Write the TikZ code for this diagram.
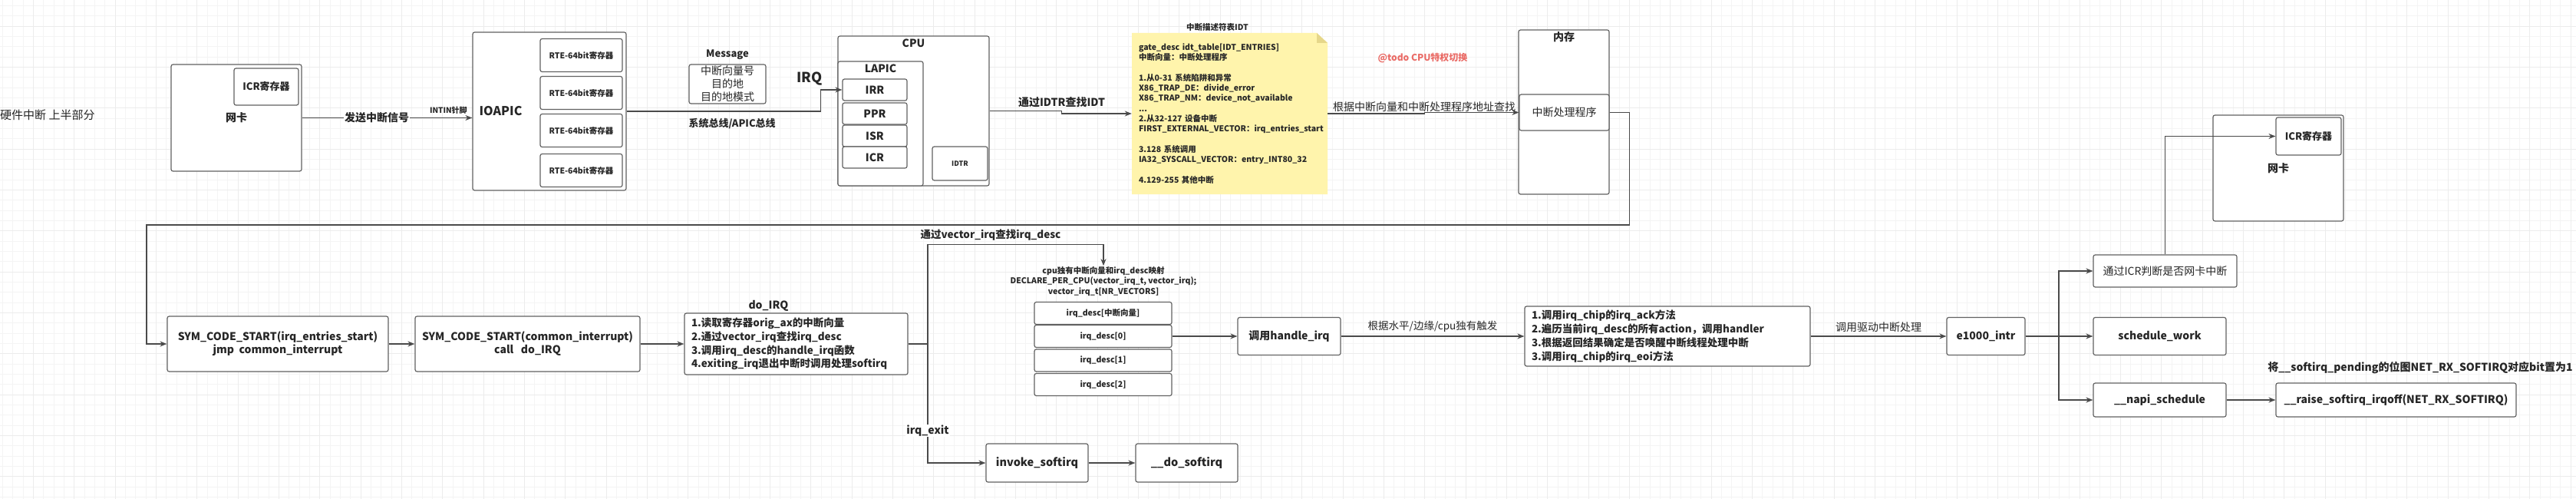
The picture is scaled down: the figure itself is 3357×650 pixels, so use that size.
\documentclass[tikz,border=0pt]{standalone}
\usepackage{fontspec}
\setmainfont{Noto Sans CJK SC}
\usepackage{tikz}
\usetikzlibrary{positioning, arrows.meta}

\definecolor{linegray}{HTML}{4A4A4A}
\definecolor{boxgray}{HTML}{626262}
\definecolor{txt}{HTML}{262626}
\definecolor{notefill}{HTML}{FFF4AC}
\definecolor{notefold}{HTML}{E6D78A}
\definecolor{todored}{HTML}{EA6B66}
\definecolor{gridminor}{HTML}{F4F4F4}
\definecolor{gridmajor}{HTML}{ECECEC}

\tikzset{
  box/.style={draw=boxgray, line width=1.2pt, rounded corners=2.5pt, fill=white, text=txt, align=center, inner sep=2pt, font=\bfseries\fontsize{14}{17}\selectfont},
  smallbox/.style={box, font=\bfseries\fontsize{10.5}{12}\selectfont},
  plainbox/.style={box, font=\fontsize{14}{17}\selectfont},
  listbox/.style={box, align=left, inner xsep=9pt, font=\bfseries\fontsize{13.5}{17.7}\selectfont},
  notebox/.style={inner xsep=9pt, text width=237pt, align=left, text=txt, font=\bfseries\fontsize{10.5}{13.3}\selectfont},
  lbl/.style={text=txt, inner sep=1pt, font=\fontsize{13.5}{16}\selectfont},
  flow/.style={draw=linegray, line width=1.3pt, -{Stealth[length=9pt,width=7pt]}},
  link/.style={draw=linegray, line width=1.3pt},
}

\begin{document}
\begin{tikzpicture}[x=1pt, y=-1pt]
  \useasboundingbox (0,0) rectangle (3357,650);
  \fill[white] (0,0) rectangle (3357,650);
  % background grid
  \begin{scope}
    \clip (0,0) rectangle (3357,650);
    \begin{scope}[shift={(43.3,34)}]
      \draw[gridminor, line width=0.8pt, step=13.333pt] (-60,-60) grid (3400,700);
      \draw[gridmajor, line width=0.8pt, step=53.333pt] (-60,-60) grid (3400,700);
    \end{scope}
  \end{scope}

  \node[lbl, anchor=west, inner sep=0pt, font=\fontsize{15}{18}\selectfont] (title) at (0,150) {硬件中断 上半部分};

  % network card and IOAPIC
  \node[box, minimum width=170pt, minimum height=139pt] (nic) at (308,153.5) {网卡};
  \node[box, minimum width=84pt, minimum height=48pt, font=\bfseries\fontsize{13}{16}\selectfont] (nicicr) at (347,113) {ICR寄存器};

  \node[box, minimum width=200pt, minimum height=206pt] (ioapic) at (716,145) {};
  \node[text=txt, inner sep=0pt, font=\bfseries\fontsize{16}{19}\selectfont, right=9pt of ioapic.west] (ioapiclbl) {IOAPIC};
  \node[smallbox, minimum width=107pt, minimum height=43pt] (rte1) at (757.5,72) {RTE-64bit寄存器};
  \node[smallbox, minimum width=107pt, minimum height=43pt] (rte2) at (757.5,121) {RTE-64bit寄存器};
  \node[smallbox, minimum width=107pt, minimum height=43pt] (rte3) at (757.5,170) {RTE-64bit寄存器};
  \node[smallbox, minimum width=107pt, minimum height=43pt] (rte4) at (757.5,222) {RTE-64bit寄存器};

  \node[plainbox, minimum width=100pt, minimum height=51pt, inner sep=0pt] (msg) at (948,109.5) {中断向量号\\目的地\\目的地模式};
  \node[lbl, font=\bfseries\fontsize{13}{16}\selectfont, above=5pt of msg] (msglbl) {Message};
  \node[lbl, font=\bfseries\fontsize{18}{20}\selectfont] (irqlbl) at (1055,103) {IRQ};

  % CPU
  \node[box, minimum width=197pt, minimum height=195pt] (cpu) at (1190.5,144.5) {};
  \node[lbl, font=\bfseries\fontsize{14}{17}\selectfont, below=3pt of cpu.north] (cpulbl) {CPU};
  \node[box, minimum width=111pt, minimum height=162pt] (lapic) at (1147.5,161) {};
  \node[lbl, font=\bfseries\fontsize{14}{17}\selectfont, below=3pt of lapic.north] (lapiclbl) {LAPIC};
  \node[box, minimum width=84pt, minimum height=28pt] (irr) at (1140,117) {IRR};
  \node[box, minimum width=84pt, minimum height=28pt] (ppr) at (1140,148) {PPR};
  \node[box, minimum width=84pt, minimum height=28pt] (isr) at (1140,177) {ISR};
  \node[box, minimum width=84pt, minimum height=28pt] (icr) at (1140,205) {ICR};
  \node[smallbox, font=\bfseries\fontsize{9}{11}\selectfont, minimum width=72pt, minimum height=44pt] (idtr) at (1251,213) {IDTR};

  % IDT note
  \fill[notefill] (1475,43) -- (1716,43) -- (1730,56) -- (1730,253) -- (1475,253) -- cycle;
  \fill[notefold] (1716,43) -- (1716,56) -- (1730,56) -- cycle;
  \node[notebox, minimum height=210pt] (idt) at (1602.5,148) {gate\_desc idt\_table[IDT\_ENTRIES]\\中断向量：中断处理程序\\[13.3pt]1.从0-31 系统陷阱和异常\\X86\_TRAP\_DE：divide\_error\\X86\_TRAP\_NM：device\_not\_available\\...\\2.从32-127 设备中断\\FIRST\_EXTERNAL\_VECTOR：irq\_entries\_start\\[13.3pt]3.128 系统调用\\IA32\_SYSCALL\_VECTOR：entry\_INT80\_32\\[13.3pt]4.129-255 其他中断};
  \node[lbl, font=\bfseries\fontsize{10.5}{13}\selectfont, above=1pt of idt, xshift=-16pt] (idttitle) {中断描述符表IDT};
  \node[lbl, text=todored, font=\bfseries\fontsize{12}{14}\selectfont] (todo) at (1854,76) {@todo CPU特权切换};

  % memory
  \node[box, minimum width=118pt, minimum height=214pt] (mem) at (2038,146) {};
  \node[lbl, font=\bfseries\fontsize{14}{17}\selectfont, below=2pt of mem.north] (memlbl) {内存};
  \node[plainbox, minimum width=117pt, minimum height=47pt] (handler) at (2038.5,146.5) {中断处理程序};

  % entry code
  \node[box, minimum width=288pt, minimum height=72pt] (entry) at (362,448) {SYM\_CODE\_START(irq\_entries\_start)\\jmp~~common\_interrupt};
  \node[box, minimum width=293pt, minimum height=72pt] (common) at (687.5,448) {SYM\_CODE\_START(common\_interrupt)\\call~~~do\_IRQ};
  \node[listbox, text width=273pt, minimum height=80pt] (doirq) at (1037.5,448) {1.读取寄存器orig\_ax的中断向量\\2.通过vector\_irq查找irq\_desc\\3.调用irq\_desc的handle\_irq函数\\4.exiting\_irq退出中断时调用处理softirq};
  \node[lbl, font=\bfseries\fontsize{14}{17}\selectfont, above=1pt of doirq, xshift=-36pt] (doirqlbl) {do\_IRQ};
  \coordinate (split) at (1209,448);

  % vector_irq and irq_desc table
  \node[lbl, align=center, font=\bfseries\fontsize{10.5}{13.5}\selectfont] (vecmap) at (1438,366.5) {cpu独有中断向量和irq\_desc映射\\DECLARE\_PER\_CPU(vector\_irq\_t, vector\_irq);\\vector\_irq\_t[NR\_VECTORS]};
  \node[lbl, font=\bfseries\fontsize{13.5}{16}\selectfont] (veclbl) at (1291,306) {通过vector\_irq查找irq\_desc};
  \node[smallbox, minimum width=179pt, minimum height=29pt] (descvec) at (1437.5,408) {irq\_desc[中断向量]};
  \node[smallbox, minimum width=179pt, minimum height=29pt] (desc0) at (1437.5,438) {irq\_desc[0]};
  \node[smallbox, minimum width=179pt, minimum height=29pt] (desc1) at (1437.5,469.5) {irq\_desc[1]};
  \node[smallbox, minimum width=179pt, minimum height=29pt] (desc2) at (1437.5,501) {irq\_desc[2]};

  \node[box, minimum width=133pt, minimum height=50pt, font=\bfseries\fontsize{14.5}{17}\selectfont] (invoke) at (1351.5,603) {invoke\_softirq};
  \node[box, minimum width=133pt, minimum height=50pt, font=\bfseries\fontsize{14.5}{17}\selectfont] (dosoft) at (1546.5,603) {\_\_do\_softirq};

  % handle_irq and driver
  \node[box, minimum width=134pt, minimum height=49pt] (handle) at (1680,438) {调用handle\_irq};
  \node[listbox, text width=354pt, minimum height=78pt] (chain) at (2173,438) {1.调用irq\_chip的irq\_ack方法\\2.遍历当前irq\_desc的所有action，调用handler\\3.根据返回结果确定是否唤醒中断线程处理中断\\3.调用irq\_chip的irq\_eoi方法};
  \node[box, minimum width=102pt, minimum height=49pt] (eintr) at (2588,438) {e1000\_intr};
  \coordinate (fork) at (2683,438);
  \node[plainbox, minimum width=187pt, minimum height=42pt] (icrchk) at (2821.5,353) {通过ICR判断是否网卡中断};
  \node[box, minimum width=173pt, minimum height=49pt] (schedw) at (2814.5,438) {schedule\_work};
  \node[box, minimum width=173pt, minimum height=44pt] (napi) at (2814.5,521) {\_\_napi\_schedule};
  \node[box, minimum width=313pt, minimum height=44pt] (raise) at (3122.5,521) {\_\_raise\_softirq\_irqoff(NET\_RX\_SOFTIRQ)};
  \node[lbl, font=\bfseries\fontsize{14}{17}\selectfont, above=10pt of raise, xshift=31.5pt] (pendlbl) {将\_\_softirq\_pending的位图NET\_RX\_SOFTIRQ对应bit置为1};

  \node[box, minimum width=170pt, minimum height=138pt] (nic2) at (2969,219) {网卡};
  \node[box, minimum width=85pt, minimum height=49pt, font=\bfseries\fontsize{13}{16}\selectfont] (nic2icr) at (3008.5,177.5) {ICR寄存器};

  % connectors
  \draw[flow] (nic) -- (nic -| ioapic.west) node[lbl, pos=0.44, fill=white, font=\bfseries\fontsize{14}{17}\selectfont] (sendlbl) {发送中断信号} node[lbl, pos=0.86, above=3pt, font=\bfseries\fontsize{10}{12}\selectfont] (pinlbl) {INTIN针脚};
  \draw[flow] (ioapic.east) -- node[lbl, below=8pt, xshift=11pt, font=\bfseries\fontsize{13}{16}\selectfont] (buslbl) {系统总线/APIC总线} ++(253,0) |- (irr.west);
  \draw[flow] (cpu.east) -- ++(94,0) node[lbl, above=3pt, font=\bfseries\fontsize{14}{17}\selectfont] (idtrlbl) {通过IDTR查找IDT} |- (idt.west);
  \draw[flow] (idt.east) -- ++(126,0) node[lbl, above=1pt, font=\fontsize{14}{17}\selectfont] (findlbl) {根据中断向量和中断处理程序地址查找} |- (handler.west);
  \draw[flow] (handler.east) -- ++(26,0) |- (191,293) |- (entry.west);
  \draw[flow] (entry) -- (common);
  \draw[flow] (common) -- (doirq);
  \draw[link] (doirq.east) -- (split);
  \draw[flow] (split) |- ([yshift=28pt]vecmap.north) -- (vecmap.north);
  \draw[flow] (split) |- node[lbl, pos=0.365, fill=white, font=\bfseries\fontsize{14}{17}\selectfont] (exitlbl) {irq\_exit} (invoke.west);
  \draw[flow] (invoke) -- (dosoft);
  \draw[flow] (desc0) -- (handle);
  \draw[flow] (handle) -- node[lbl, above=4pt] (trglbl) {根据水平/边缘/cpu独有触发} (chain);
  \draw[flow] (chain) -- node[lbl, above=4pt, font=\fontsize{14}{17}\selectfont] (drvlbl) {调用驱动中断处理} (eintr);
  \draw[link] (eintr) -- (fork);
  \draw[flow] (fork) |- (icrchk.west);
  \draw[flow] (fork) -- (schedw);
  \draw[flow] (fork) |- (napi.west);
  \draw[flow] (napi) -- (raise);
  \draw[flow] (icrchk.north) |- (nic2icr.west);
\end{tikzpicture}
\end{document}
